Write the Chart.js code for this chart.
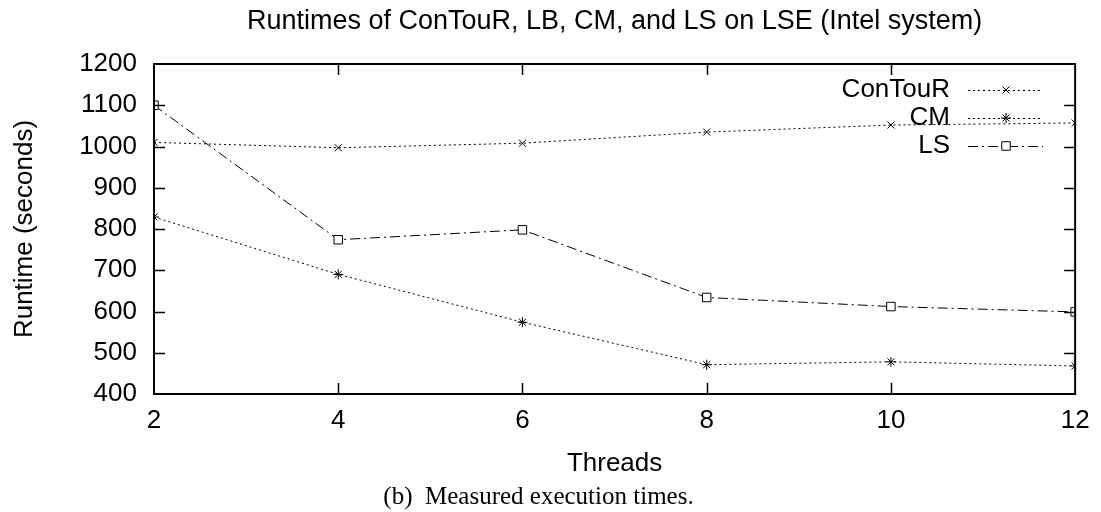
<!DOCTYPE html>
<html><head><meta charset="utf-8">
<script src="https://cdn.jsdelivr.net/npm/chart.js@4/dist/chart.umd.min.js"></script>
<style>html,body{margin:0;padding:0;background:#fff;}</style>
</head><body>
<canvas id="c" width="1101" height="512" style="display:block"></canvas>
<script>
// ---- data ----
const threads = [2, 4, 6, 8, 10, 12];
const contourRuntimes = [1010, 997, 1008, 1035, 1052, 1057];
const cmRuntimes = [829, 690, 574, 471, 478, 468];
const lsRuntimes = [1100, 774, 798, 634, 612, 599];
const seriesNames = ['ConTouR', 'CM', 'LS'];
const xTickValues = [2, 4, 6, 8, 10, 12];
const yTickValues = [400, 500, 600, 700, 800, 900, 1000, 1100, 1200];

const SANS = '"Liberation Sans", Arial, sans-serif';
const toPts = (vals) => threads.map((t, i) => ({x: t, y: vals[i]}));

const frame = {
  id: 'frame',
  afterDatasetsDraw(chart) {
    const {ctx, chartArea: a, scales: {x, y}} = chart;
    ctx.save();
    ctx.strokeStyle = '#000';
    ctx.lineWidth = 1.5;
    const tl = 11;
    ctx.beginPath();
    yTickValues.forEach(v => {
      const p = Math.round(y.getPixelForValue(v)) + 0.5;
      if (v !== yTickValues[0] && v !== yTickValues[yTickValues.length - 1]) {
        ctx.moveTo(a.left, p); ctx.lineTo(a.left + tl, p);
        ctx.moveTo(a.right, p); ctx.lineTo(a.right - tl, p);
      }
    });
    xTickValues.forEach(v => {
      const p = Math.round(x.getPixelForValue(v)) + 0.5;
      if (v !== xTickValues[0] && v !== xTickValues[xTickValues.length - 1]) {
        ctx.moveTo(p, a.bottom); ctx.lineTo(p, a.bottom - tl);
        ctx.moveTo(p, a.top); ctx.lineTo(p, a.top + tl);
      }
    });
    ctx.stroke();
    ctx.lineWidth = 2;
    ctx.strokeRect(a.left, a.top, a.right - a.left, a.bottom - a.top);
    ctx.restore();
  }
};

const legendPlugin = {
  id: 'gpLegend',
  afterDatasetsDraw(chart) {
    const {ctx} = chart;
    const textRight = 950, lineL = 968, lineR = 1043, markX = 1006;
    const rows = [90, 118, 146];
    ctx.save();
    chart.data.datasets.forEach((ds, i) => {
      const yy = rows[i];
      ctx.font = '26px ' + SANS;
      ctx.fillStyle = '#000';
      ctx.textAlign = 'right';
      ctx.textBaseline = 'middle';
      ctx.fillText(ds.label, textRight, yy);
      ctx.strokeStyle = ds.borderColor;
      ctx.lineWidth = ds.borderWidth;
      ctx.setLineDash(ds.borderDash || []);
      ctx.beginPath();
      ctx.moveTo(lineL, yy + 0.5); ctx.lineTo(lineR, yy + 0.5);
      ctx.stroke();
      ctx.setLineDash([]);
      ctx.fillStyle = ds.pointBackgroundColor || '#fff';
      ctx.strokeStyle = ds.pointBorderColor || '#000';
      ctx.lineWidth = 1;
      Chart.helpers.drawPoint(ctx, {
        pointStyle: ds.pointStyle, radius: ds.pointRadius, rotation: 0, borderWidth: 1
      }, markX, yy);
    });
    ctx.restore();
  }
};

new Chart(document.getElementById('c'), {
  type: 'line',
  data: {
    datasets: [
      {label: seriesNames[0], data: toPts(contourRuntimes), borderColor: '#000', borderWidth: 1,
       borderDash: [2, 3], pointStyle: 'crossRot', pointRadius: 5, pointBorderColor: '#000',
       pointBorderWidth: 1, pointBackgroundColor: '#fff', tension: 0},
      {label: seriesNames[1], data: toPts(cmRuntimes), borderColor: '#000', borderWidth: 1,
       borderDash: [2, 3], pointStyle: 'star', pointRadius: 5, pointBorderColor: '#000',
       pointBorderWidth: 1, pointBackgroundColor: '#fff', tension: 0},
      {label: seriesNames[2], data: toPts(lsRuntimes), borderColor: '#000', borderWidth: 1,
       borderDash: [10, 4, 2, 4], pointStyle: 'rect', pointRadius: 6, pointBorderColor: '#000',
       pointBorderWidth: 1, pointBackgroundColor: '#fff', tension: 0}
    ]
  },
  options: {
    responsive: false,
    animation: false,
    layout: {padding: {left: 0, right: 24, top: 0, bottom: 0}},
    plugins: {
      legend: {display: false},
      tooltip: {enabled: false},
      title: {display: true, fullSize: false,
        text: 'Runtimes of ConTouR, LB, CM, and LS on LSE (Intel system)',
        color: '#000', font: {family: SANS, size: 27, weight: 'normal'},
        padding: {top: 5.5, bottom: 26.1}},
      subtitle: {display: true, position: 'bottom', fullSize: true,
        text: '(b)  Measured execution times.', color: '#000',
        font: {family: '"Liberation Serif", "Times New Roman", serif', size: 25, weight: 'normal'},
        padding: {top: 0, bottom: 0}}
    },
    scales: {
      x: {type: 'linear', min: 2, max: 12,
        afterBuildTicks: (s) => { s.ticks = xTickValues.map(v => ({value: v})); },
        afterFit: (s) => { s.height = 88; },
        grid: {display: false, drawTicks: false}, border: {display: false},
        ticks: {color: '#000', padding: 11.4, font: {family: SANS, size: 26},
          callback: (v) => String(v)},
        title: {display: true, text: 'Threads', color: '#000',
          font: {family: SANS, size: 26}, padding: {top: 0, bottom: 2.4}}},
      y: {type: 'linear', min: 400, max: 1200,
        afterBuildTicks: (s) => { s.ticks = yTickValues.map(v => ({value: v})); },
        afterFit: (s) => { s.width = 154; },
        grid: {display: false, drawTicks: false}, border: {display: false},
        ticks: {color: '#000', padding: 17, font: {family: SANS, size: 26},
          callback: (v) => String(v)},
        title: {display: true, text: 'Runtime (seconds)', color: '#000',
          font: {family: SANS, size: 26}, padding: {top: 9.4, bottom: 0}}}
    }
  },
  plugins: [frame, legendPlugin]
});
</script>
</body></html>
